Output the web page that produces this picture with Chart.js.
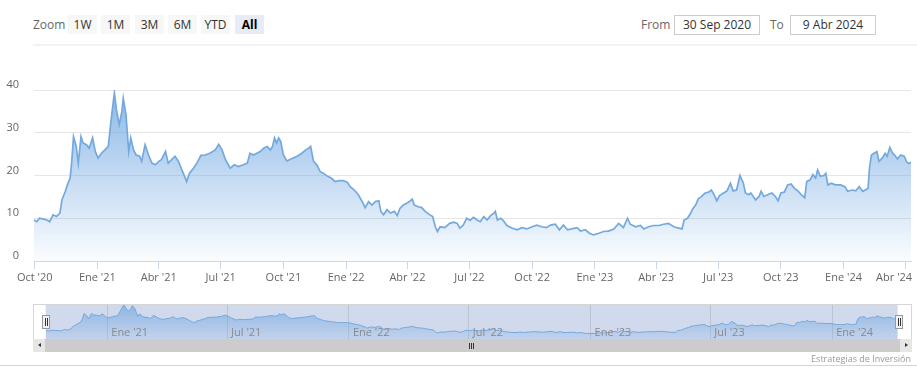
<!DOCTYPE html>
<html>
<head>
<meta charset="utf-8">
<script src="https://cdn.jsdelivr.net/npm/chart.js@4.4.1/dist/chart.umd.min.js"></script>
<style>
html,body{margin:0;padding:0;background:#fff;}
body{width:917px;height:380px;position:relative;overflow:hidden;font-family:"Open Sans",sans-serif;}
.abs{position:absolute;box-sizing:border-box;}
.lbl{top:15px;height:19px;font-size:12px;line-height:19px;color:#666;}
.btn{top:15px;height:19px;width:29px;background:#f7f7f7;color:#333;font-size:12px;line-height:19px;text-align:center;}
.sel{background:#e6ebf5;color:#000;font-weight:bold;}
.box{top:15px;height:20px;border:1px solid #ccc;font-size:12px;line-height:18px;text-align:center;color:#333;background:#fff;}
canvas{position:absolute;left:0;}
</style>
</head>
<body>
<div class="abs lbl" style="left:33px;">Zoom</div>
<div class="abs btn" style="left:68px;">1W</div>
<div class="abs btn" style="left:101px;">1M</div>
<div class="abs btn" style="left:135px;">3M</div>
<div class="abs btn" style="left:168px;">6M</div>
<div class="abs btn" style="left:201px;">YTD</div>
<div class="abs btn sel" style="left:235px;">All</div>
<div class="abs lbl" style="left:641px;">From</div>
<div class="abs box" style="left:674px;width:86px;">30 Sep 2020</div>
<div class="abs lbl" style="left:770px;">To</div>
<div class="abs box" style="left:790px;width:86px;">9 Abr 2024</div>
<div class="abs" style="left:33px;top:44px;width:884px;height:2px;background:#f2f2f2;"></div>

<canvas id="main" width="917" height="300" style="top:0;"></canvas>
<canvas id="nav" width="917" height="56" style="top:300px;"></canvas>

<!-- navigator outline -->
<div class="abs" style="left:33px;top:304px;width:879px;height:36px;border:1px solid #d6d6d6;border-bottom:none;pointer-events:none;"></div>
<!-- scrollbar -->
<div class="abs" style="left:33px;top:339px;width:879px;height:13px;background:#f2f2f2;"></div>
<div class="abs" style="left:45px;top:339px;width:855px;height:13px;background:#cccccc;"></div>
<div class="abs" style="left:33px;top:339px;width:12px;height:13px;background:#e6e6e6;"></div>
<div class="abs" style="left:900px;top:339px;width:12px;height:13px;background:#e6e6e6;"></div>
<div class="abs" style="left:38px;top:343px;width:0;height:0;border-top:2.5px solid transparent;border-bottom:2.5px solid transparent;border-right:3px solid #333;"></div>
<div class="abs" style="left:905px;top:343px;width:0;height:0;border-top:2.5px solid transparent;border-bottom:2.5px solid transparent;border-left:3px solid #333;"></div>
<div class="abs" style="left:469px;top:343px;width:1px;height:6px;background:#333;"></div>
<div class="abs" style="left:471px;top:343px;width:1px;height:6px;background:#333;"></div>
<div class="abs" style="left:473px;top:343px;width:1px;height:6px;background:#333;"></div>
<!-- handles -->
<div class="abs" style="left:42px;top:315px;width:8px;height:14px;background:#f2f2f2;border:1px solid #999;"></div>
<div class="abs" style="left:45px;top:318px;width:1px;height:8px;background:#333;"></div>
<div class="abs" style="left:47px;top:318px;width:1px;height:8px;background:#333;"></div>
<div class="abs" style="left:895px;top:315px;width:8px;height:14px;background:#f2f2f2;border:1px solid #999;"></div>
<div class="abs" style="left:898px;top:318px;width:1px;height:8px;background:#333;"></div>
<div class="abs" style="left:900px;top:318px;width:1px;height:8px;background:#333;"></div>

<div class="abs" style="right:6px;top:353px;font-size:9px;line-height:12px;color:#999;">Estrategias de Inversión</div>
<div class="abs" style="left:0;top:365px;width:917px;height:1px;background:#d2d2e6;"></div>

<script>
// ---- data (days counted from 2020-10-01) ----
const startDate = '2020-10-01';
const days = [
  -1,3,7,13,18,22,27,32,37,40,
  42,45,48,52,54,57,61,64,68,71,
  76,80,85,89,93,98,103,108,112,116,
  117,120,124,128,130,134,138,141,145,149,
  154,157,162,167,172,177,182,186,192,196,
  201,206,211,216,220,223,227,233,238,244,
  250,257,265,270,275,280,287,293,299,306,
  312,316,321,326,331,336,341,346,349,352,
  355,358,361,365,370,377,385,392,398,402,
  405,409,414,419,424,430,435,441,447,453,
  459,463,469,475,482,485,490,495,500,505,
  508,512,517,522,528,532,536,541,546,550,
  554,557,563,568,573,579,584,588,591,595,
  602,609,615,620,624,629,634,639,644,649,
  654,659,664,669,674,676,679,684,688,693,
  700,708,715,722,730,737,744,751,757,764,
  770,776,782,788,796,801,808,814,820,828,
  835,842,850,857,864,870,874,882,889,894,
  901,908,916,923,930,938,945,950,953,958,
  962,966,970,974,978,984,989,993,997,1001,
  1005,1011,1016,1021,1025,1030,1035,1040,1043,1048,
  1051,1058,1063,1066,1070,1077,1082,1087,1091,1095,
  1100,1105,1110,1115,1120,1125,1130,1133,1138,1142,
  1146,1149,1153,1158,1161,1164,1169,1175,1183,1189,
  1193,1200,1205,1210,1215,1219,1223,1225,1228,1232,
  1236,1239,1244,1248,1251,1255,1259,1262,1266,1271,
  1276,1280,1283,1286
];
const values = [
  9.6,9.2,10.0,9.8,9.6,9.2,10.8,10.4,11.2,14.3,
  15.1,16.3,17.8,19.4,22.5,29.1,26.8,22.9,29.1,27.6,
  27.2,26.4,28.8,25.6,24.1,25.2,26.0,26.8,32.7,38.1,
  39.3,35.4,31.9,35.0,38.1,34.2,25.6,28.8,26.0,24.8,
  24.5,23.3,27.2,24.8,22.9,22.5,23.3,23.7,25.6,22.9,
  23.7,24.5,23.3,21.3,19.8,18.6,20.5,21.7,22.9,24.7,
  24.8,25.2,26.0,27.3,26.0,23.7,21.7,22.5,22.1,22.5,
  22.9,25.2,24.8,25.2,25.6,26.4,26.8,26.0,26.8,28.8,
  27.6,28.8,28.0,24.8,23.4,23.9,24.5,25.2,26.0,26.4,
  26.8,23.4,22.5,20.9,20.5,19.8,19.4,18.6,18.8,18.8,
  18.4,17.4,16.6,15.5,13.5,12.5,13.9,13.1,13.9,14.1,
  11.6,10.8,12.0,11.2,11.6,10.6,12.3,13.1,13.5,13.9,
  14.5,13.1,12.7,12.5,11.6,10.9,10.4,8.0,6.9,8.0,
  7.8,8.8,9.1,8.8,7.7,8.4,10.0,9.5,10.2,9.6,
  9.2,10.4,9.6,10.6,11.2,11.6,9.6,10.0,9.4,8.3,
  7.7,7.3,7.8,7.5,8.0,8.4,8.0,7.8,8.4,8.6,
  7.3,8.4,7.3,7.5,7.8,7.0,7.3,6.5,6.1,6.5,
  6.9,7.0,7.5,8.8,7.8,10.0,8.6,8.0,8.3,7.5,
  8.0,8.3,8.3,8.6,8.8,8.0,7.7,7.5,9.6,10.0,
  11.0,12.3,13.1,14.6,15.0,15.9,16.1,16.6,15.5,14.1,
  15.3,15.9,16.4,18.2,16.4,16.6,20.0,18.2,15.9,15.5,
  15.9,14.3,15.1,16.3,15.1,15.6,15.9,15.1,14.1,15.9,
  16.1,17.8,18.0,17.0,16.4,15.5,14.8,18.6,19.0,20.2,
  19.4,21.3,19.8,20.0,20.5,17.8,18.2,17.8,17.8,17.4,
  16.3,16.6,16.4,17.4,16.3,16.6,17.0,21.7,24.8,25.2,
  25.6,23.3,24.1,25.2,24.5,26.6,25.2,24.8,23.9,24.8,
  24.5,23.1,22.8,23.1
];
const rangeStart = '2020-09-30';
const rangeEnd = '2024-04-09';
const tickDates = ['2020-10-01','2021-01-01','2021-04-01','2021-07-01','2021-10-01','2022-01-01','2022-04-01','2022-07-01','2022-10-01','2023-01-01','2023-04-01','2023-07-01','2023-10-01','2024-01-01','2024-04-01'];
const tickLabels = ["Oct '20","Ene '21","Abr '21","Jul '21","Oct '21","Ene '22","Abr '22","Jul '22","Oct '22","Ene '23","Abr '23","Jul '23","Oct '23","Ene '24","Abr '24"];
const navTickDates = ['2021-01-01','2021-07-01','2022-01-01','2022-07-01','2023-01-01','2023-07-01','2024-01-01'];
const navTickLabels = ["Ene '21","Jul '21","Ene '22","Jul '22","Ene '23","Jul '23","Ene '24"];
const yTicks = [0,10,20,30,40];

// ---- helpers ----
function dayOf(s){
  const t = Date.UTC(+s.slice(0,4), +s.slice(5,7)-1, +s.slice(8,10));
  const t0 = Date.UTC(+startDate.slice(0,4), +startDate.slice(5,7)-1, +startDate.slice(8,10));
  return Math.round((t - t0)/864e5);
}
const xMin = dayOf(rangeStart), xMax = dayOf(rangeEnd);
const tickDays = tickDates.map(dayOf);
const navTickDays = navTickDates.map(dayOf);
const points = days.map((d,i)=>({x:d, y:values[i]}));
const LINE = '#74a9de';
const FONT = 'Open Sans';

function grad(ctx, a1, a2){
  const c = ctx.chart, area = c.chartArea;
  if(!area) return 'rgba(111,166,220,0.4)';
  const g = c.ctx.createLinearGradient(0, area.top, 0, area.bottom);
  g.addColorStop(0, 'rgba(111,166,225,'+a1+')');
  g.addColorStop(1, 'rgba(111,166,225,'+a2+')');
  return g;
}

new Chart(document.getElementById('main'), {
  type: 'line',
  data: { datasets: [{
    data: points, borderColor: LINE, borderWidth: 1.7, pointRadius: 0, tension: 0,
    fill: 'origin', backgroundColor: ctx => grad(ctx, 0.8, 0.03)
  }]},
  options: {
    responsive: false, animation: false, events: [],
    plugins: { legend: {display:false}, tooltip: {enabled:false} },
    layout: { padding: {left:0, right:6, top:90, bottom:0} },
    scales: {
      x: {
        type: 'linear', min: xMin, max: xMax,
        afterBuildTicks: s => { s.ticks = tickDays.map(v => ({value:v})); },
        afterFit: s => { s.height = 39; s.paddingLeft = 0; s.paddingRight = 0; },
        grid: { drawOnChartArea:false, drawTicks:true, tickLength:8, color:'#ccd6eb' },
        border: { display:true, color:'#ccd6eb' },
        ticks: {
          autoSkip:false, maxRotation:0, minRotation:0, padding:2, color:'#666',
          font:{family:FONT, size:11},
          callback: (v, i) => i === tickLabels.length-1 ? tickLabels[i] + '\u00a0\u00a0\u00a0\u00a0\u00a0\u00a0\u00a0\u00a0' : tickLabels[i]
        }
      },
      y: {
        min: 0, max: 40,
        afterBuildTicks: s => { s.ticks = yTicks.map(v => ({value:v})); },
        afterFit: s => { s.width = 34; s.paddingTop = 0; s.paddingBottom = 0; },
        grid: { color:'#e6e6e6', drawTicks:false },
        border: { display:false },
        ticks: { padding:15, labelOffset:-5, color:'#666', font:{family:FONT, size:11} }
      }
    }
  }
});

const navPlugin = {
  id: 'navDeco',
  beforeDraw(chart){
    const a = chart.chartArea, c = chart.ctx;
    c.save();
    c.fillStyle = 'rgba(102,133,194,0.3)';
    c.fillRect(a.left, a.top, a.right - a.left, a.bottom - a.top);
    c.restore();
  },
  afterDraw(chart){
    const c = chart.ctx, sx = chart.scales.x;
    c.save();
    c.font = '11px "' + FONT + '"';
    c.fillStyle = '#8a8a8a';
    c.textBaseline = 'middle';
    c.textAlign = 'left';
    navTickDays.forEach((d,i) => {
      c.fillText(navTickLabels[i], sx.getPixelForValue(d) + 4, 33);
    });
    c.restore();
  }
};

new Chart(document.getElementById('nav'), {
  type: 'line',
  data: { datasets: [{
    data: points, borderColor: LINE, borderWidth: 1, pointRadius: 0, tension: 0,
    fill: 'origin', backgroundColor: ctx => grad(ctx, 0.7, 0.15)
  }]},
  options: {
    responsive: false, animation: false, events: [],
    plugins: { legend: {display:false}, tooltip: {enabled:false} },
    layout: { padding: {left:45.7, right:19.3, top:4, bottom:17} },
    scales: {
      x: {
        type: 'linear', min: xMin, max: xMax,
        afterBuildTicks: s => { s.ticks = navTickDays.map(v => ({value:v})); },
        afterFit: s => { s.height = 0; s.paddingLeft = 0; s.paddingRight = 0; },
        grid: { color:'rgba(0,0,0,0.1)', drawTicks:false },
        border: { display:false },
        ticks: { display:false }
      },
      y: { display:false, min:0, max:40 }
    }
  },
  plugins: [navPlugin]
});
</script>
</body>
</html>
